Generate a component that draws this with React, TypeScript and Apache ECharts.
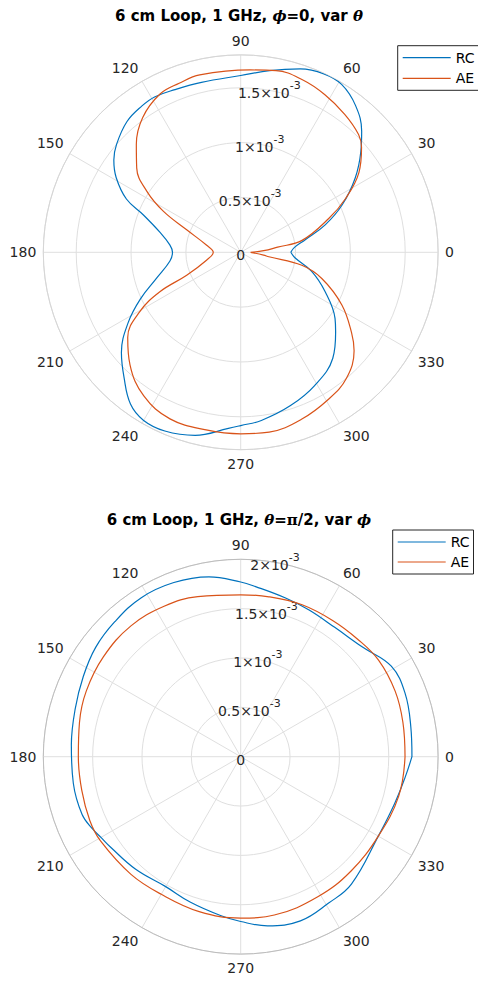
import React, { useEffect, useRef } from 'react';
import * as echarts from 'echarts';

// ---- tick labels ----
const angleTicks = [0, 30, 60, 90, 120, 150, 180, 210, 240, 270, 300, 330];
const topRTicks = [0, 0.5, 1, 1.5]; // ×10^-3
const topRTickLabels = ['0', '0.5', '1', '1.5'];
const botRTicks = [0, 0.5, 1, 1.5, 2]; // ×10^-3
const botRTickLabels = ['0', '0.5', '1', '1.5', '2'];
const seriesNames = ['RC', 'AE'];

// ---- top plot: phi = 0, var theta (radius in units of 1e-3) ----
const topRcAngle = [0, 5, 11, 18, 25, 33, 40, 45, 52, 59, 65, 72, 81, 90, 103, 112, 119, 124, 131, 139, 144, 149, 155, 159, 166, 174, 180, 187, 197, 205, 212, 220, 227, 234, 240, 247, 256, 266, 270, 277, 288, 299, 311, 320, 325, 335, 345, 354, 360];
const topRcR = [0.457, 0.49, 0.6, 0.81, 1.02, 1.245, 1.43, 1.56, 1.7, 1.786, 1.795, 1.758, 1.677, 1.612, 1.59, 1.6, 1.62, 1.61, 1.58, 1.5, 1.43, 1.325, 1.15, 0.95, 0.76, 0.65, 0.622, 0.65, 0.8, 1.01, 1.21, 1.42, 1.56, 1.71, 1.77, 1.77, 1.72, 1.61, 1.58, 1.545, 1.47, 1.39, 1.28, 1.13, 1.05, 0.85, 0.67, 0.5, 0.457];

const topAeAngle = [0, 4, 8, 11, 21, 27, 34, 41, 45, 53, 62, 70, 79, 87, 103, 110, 117, 126, 134, 141, 147, 152, 157.5, 168, 180, 193, 203, 206, 210.5, 217, 225.5, 236, 247, 259, 270, 279, 290, 301, 310, 319, 324, 332.5, 342, 348, 351, 353, 360];
const topAeR = [0.09, 0.21, 0.34, 0.57, 0.86, 1.07, 1.3, 1.46, 1.52, 1.576, 1.63, 1.67, 1.688, 1.665, 1.66, 1.64, 1.62, 1.52, 1.37, 1.22, 1.02, 0.8, 0.53, 0.32, 0.25, 0.32, 0.535, 0.82, 1.07, 1.29, 1.44, 1.58, 1.65, 1.65, 1.655, 1.66, 1.62, 1.56, 1.5, 1.37, 1.25, 1.04, 0.78, 0.57, 0.26, 0.21, 0.09];

// ---- bottom plot: theta = pi/2, var phi (radius in units of 1e-3) ----
const botRcAngle = [0, 10, 21, 31, 42, 54, 65, 74, 85, 90, 100, 111, 122, 133, 143, 153, 164, 176, 189, 200, 206, 210, 215, 227, 240, 251, 263, 270, 279, 290, 301, 311, 330, 343, 353, 360];
const botRcR = [1.735, 1.75, 1.785, 1.78, 1.66, 1.62, 1.64, 1.67, 1.73, 1.77, 1.85, 1.89, 1.9, 1.87, 1.84, 1.79, 1.745, 1.72, 1.717, 1.71, 1.67, 1.635, 1.605, 1.56, 1.52, 1.56, 1.624, 1.67, 1.735, 1.77, 1.73, 1.71, 1.61, 1.63, 1.68, 1.735];

const botAeAngle = [0, 12, 23, 35, 45, 56, 68, 80, 90, 105, 117, 130, 144, 157, 168, 180, 192, 203, 211, 227, 240, 255, 270, 282, 299, 314, 330, 346, 360];
const botAeR = [1.665, 1.68, 1.7, 1.705, 1.68, 1.665, 1.66, 1.645, 1.64, 1.68, 1.71, 1.73, 1.72, 1.7, 1.67, 1.645, 1.646, 1.66, 1.657, 1.63, 1.61, 1.625, 1.635, 1.64, 1.62, 1.61, 1.61, 1.65, 1.665];

const FONT = 'DejaVu Sans';
const SERIF = 'DejaVu Serif';
const TEXT = '#262626';
const GRID = '#dfdfdf';
const BLUE = '#0072BD';
const ORANGE = '#D95319';

const TOP_CENTER = [240.7, 252.3];
const BOT_CENTER = [240.7, 756.7];
const RADIUS = 197.4;

function pairs(angles: number[], radii: number[]) {
  return angles.map((a, i) => [radii[i], a]);
}

function radiusFormatter(ticks: number[], labels: string[]) {
  return (v: number) => {
    const i = ticks.findIndex((t) => Math.abs(t - v) < 1e-9);
    if (i < 0) return '';
    if (ticks[i] === 0) return '{m|0}';
    return `{m|${labels[i]}×10}{s|-3}`;
  };
}

const angleFormatter = (v: number) => (angleTicks.indexOf(v) >= 0 ? String(v) : '');

const radiusRich = {
  m: { fontFamily: FONT, fontSize: 14, color: TEXT, lineHeight: 20, verticalAlign: 'bottom' },
  s: { fontFamily: FONT, fontSize: 11, color: TEXT, lineHeight: 14, verticalAlign: 'top' },
};

function mainAngleAxis(polarIndex: number, outerColor: string) {
  return {
    polarIndex,
    type: 'value',
    min: 0,
    max: 360,
    interval: 30,
    startAngle: 0,
    clockwise: false,
    axisLine: { show: true, lineStyle: { color: outerColor, width: 1 } },
    axisTick: { show: false },
    splitLine: { show: true, lineStyle: { color: GRID, width: 1 } },
    axisLabel: { margin: 7, fontFamily: FONT, fontSize: 14, color: TEXT, formatter: angleFormatter },
  };
}

function labelAngleAxis(polarIndex: number) {
  return { polarIndex, type: 'value', min: 0, max: 360, startAngle: 80, clockwise: false, show: false };
}

function mainRadiusAxis(polarIndex: number, max: number) {
  return {
    polarIndex,
    type: 'value',
    min: 0,
    max,
    interval: 0.5,
    axisLine: { show: false },
    axisTick: { show: false },
    axisLabel: { show: false },
    splitLine: { show: true, lineStyle: { color: GRID, width: 1 } },
  };
}

function labelRadiusAxis(polarIndex: number, max: number, ticks: number[], labels: string[]) {
  return {
    polarIndex,
    type: 'value',
    min: 0,
    max,
    interval: 0.5,
    axisLine: { show: false },
    axisTick: { show: false },
    splitLine: { show: false },
    axisLabel: {
      show: true,
      margin: 0,
      rotate: 0,
      align: 'center',
      verticalAlign: 'middle',
      formatter: radiusFormatter(ticks, labels),
      rich: radiusRich,
    },
  };
}

function lineSeries(name: string, polarIndex: number, data: number[][], color: string) {
  return {
    type: 'line',
    name,
    coordinateSystem: 'polar',
    polarIndex,
    data,
    symbol: 'none',
    showSymbol: false,
    smooth: 0.4,
    lineStyle: { color, width: 1.2 },
    itemStyle: { color },
    z: 3,
  };
}

function legendAt(left: number, top: number, gap: number) {
  return {
    data: seriesNames,
    orient: 'vertical',
    left,
    top,
    padding: [5, 4, 5, 5],
    icon: 'rect',
    itemWidth: 48,
    itemHeight: 1.2,
    itemGap: gap,
    selectedMode: false,
    borderColor: '#262626',
    borderWidth: 1,
    borderRadius: 0,
    backgroundColor: '#ffffff',
    textStyle: { fontFamily: FONT, fontSize: 14, color: '#000' },
  };
}

const titleRich = {
  b: { fontFamily: FONT, fontWeight: 'bold', fontSize: 15, color: '#000', lineHeight: 18 },
  g: { fontFamily: SERIF, fontStyle: 'italic', fontWeight: 'bold', fontSize: 15, color: '#000', lineHeight: 18 },
  u: { fontFamily: SERIF, fontWeight: 'bold', fontSize: 15, color: '#000', lineHeight: 18 },
};

export default function App() {
  const ref = useRef<HTMLDivElement>(null);

  useEffect(() => {
    if (!ref.current) return;
    const chart = echarts.init(ref.current, null, { renderer: 'svg' });
    const option: any = {
      animation: false,
      backgroundColor: '#ffffff',
      title: [
        {
          text: '{b|6 cm Loop, 1 GHz, }{g|ϕ}{b|=0, var }{g|θ}',
          left: 'center',
          top: 7,
          padding: 0,
          textStyle: { rich: titleRich },
        },
        {
          text: '{b|6 cm Loop, 1 GHz, }{g|θ}{b|=}{u|π}{b|/2, var }{g|ϕ}',
          left: 'center',
          top: 510.5,
          padding: 0,
          textStyle: { rich: titleRich },
        },
      ],
      legend: [legendAt(397.7, 45.7, 6.6), legendAt(392.7, 530, 6)],
      polar: [
        { center: TOP_CENTER, radius: RADIUS },
        { center: TOP_CENTER, radius: RADIUS },
        { center: BOT_CENTER, radius: RADIUS },
        { center: BOT_CENTER, radius: RADIUS },
      ],
      angleAxis: [
        mainAngleAxis(0, '#d6d6d6'),
        labelAngleAxis(1),
        mainAngleAxis(2, '#bdbdbd'),
        labelAngleAxis(3),
      ],
      radiusAxis: [
        mainRadiusAxis(0, 1.8),
        labelRadiusAxis(1, 1.8, topRTicks, topRTickLabels),
        mainRadiusAxis(2, 2),
        labelRadiusAxis(3, 2, botRTicks, botRTickLabels),
      ],
      series: [
        lineSeries('RC', 0, pairs(topRcAngle, topRcR), BLUE),
        lineSeries('AE', 0, pairs(topAeAngle, topAeR), ORANGE),
        lineSeries('RC', 2, pairs(botRcAngle, botRcR), BLUE),
        lineSeries('AE', 2, pairs(botAeAngle, botAeR), ORANGE),
      ],
    };
    chart.setOption(option);
    return () => chart.dispose();
  }, []);

  return (
    <div
      ref={ref}
      style={{ position: 'absolute', left: 0, top: 0, width: 478, height: 982, background: '#fff' }}
    />
  );
}
